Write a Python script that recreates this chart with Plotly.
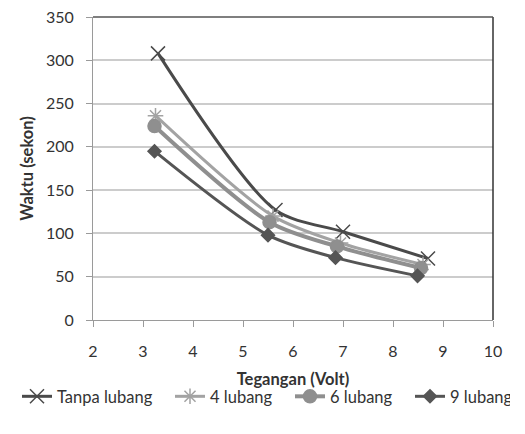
import plotly.graph_objects as go

series_names = ["Tanpa lubang", "4 lubang", "6 lubang", "9 lubang"]
x_tanpa = [3.3, 5.65, 7.0, 8.7]
y_tanpa = [308, 127, 102, 71]
x_4 = [3.25, 5.6, 6.95, 8.6]
y_4 = [236, 120, 89, 64]
x_6 = [3.23, 5.53, 6.88, 8.56]
y_6 = [224, 113, 85, 60]
x_9 = [3.23, 5.5, 6.85, 8.49]
y_9 = [195, 98, 72, 51]

xs = [x_tanpa, x_4, x_6, x_9]
ys = [y_tanpa, y_4, y_6, y_9]
colors = ["#4a4a4a", "#a3a3a3", "#8f8f8f", "#555555"]
widths = [3, 3, 4, 3]
symbols = ["x-thin-open", "asterisk-open", "circle", "diamond"]
msizes = [14, 13, 13, 10]
legend_widths = [108, 75, 75, 55]

fig = go.Figure()
for name, x, y, c, w, s, ms, lw in zip(series_names, xs, ys, colors, widths, symbols, msizes, legend_widths):
    fig.add_trace(go.Scatter(
        x=x, y=y, name=name, mode="lines+markers",
        line=dict(color=c, width=w, shape="spline", smoothing=0.8),
        marker=dict(symbol=s, size=ms, color=c, line=dict(color=c, width=1.5)),
        legendwidth=lw,
    ))

fig.update_layout(
    width=525, height=434,
    margin=dict(l=93, r=32, t=17, b=114, autoexpand=False),
    paper_bgcolor="white", plot_bgcolor="white",
    font=dict(family="Lato, Open Sans, sans-serif", size=16, color="#333"),
    legend=dict(orientation="h", x=-0.19, xanchor="left", y=-0.195, yanchor="top",
                font=dict(size=16.5), itemwidth=30, tracegroupgap=0),
    showlegend=True,
)
fig.update_xaxes(
    range=[2, 10], dtick=1, showgrid=False, zeroline=False,
    showline=True, linecolor="#9a9a9a", linewidth=1, mirror=False,
    ticks="outside", ticklen=6, tickcolor="#9a9a9a", ticklabelstandoff=11,
    tickfont=dict(size=16),
    title=dict(text="<b>Tegangan (Volt)</b>", font=dict(size=16.5), standoff=14),
)
fig.update_yaxes(
    range=[0, 350], dtick=50, showgrid=True, gridcolor="#cccccc", gridwidth=1.5,
    zeroline=False, showline=True, linecolor="#9a9a9a", linewidth=1,
    ticks="outside", ticklen=6, tickcolor="#9a9a9a", ticklabelstandoff=9,
    tickfont=dict(size=16),
    title=dict(text="<b>Waktu (sekon)</b>", font=dict(size=16.5), standoff=8),
)
fig.add_shape(type="line", xref="paper", yref="paper", x0=1, x1=1, y0=0, y1=1,
              line=dict(color="#333", width=1.5))
fig.add_shape(type="line", xref="paper", yref="paper", x0=0, x1=1, y0=1, y1=1,
              line=dict(color="#555", width=1.5))

fig.write_html("out.html")
